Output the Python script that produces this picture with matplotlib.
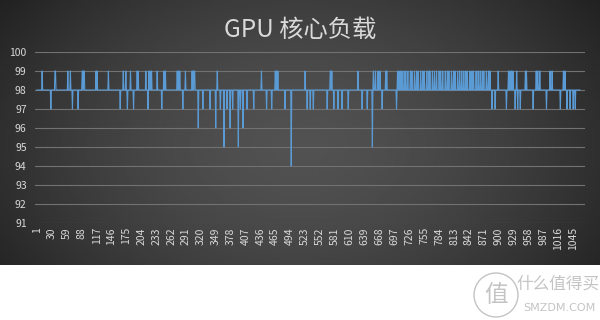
"""GPU core load line chart, Excel-style dark panel."""
import matplotlib
matplotlib.use("Agg")
import matplotlib.pyplot as plt
import matplotlib.patches as mpatches
import numpy as np

plt.rcParams["font.family"] = ["Noto Sans CJK SC", "DejaVu Sans"]

TITLE = "GPU 核心负载"

# samples sit at 98 % most of the time; listed indices (1-based) deviate
BASE_LOAD = 98
N_POINTS = 1058
PEAKS_99 = [
    11, 36, 37, 61, 66, 89, 90, 92, 93, 116, 118, 140, 169, 174, 183, 196, 198,
    213, 219, 221, 224, 235, 248, 251, 274, 277, 279, 290, 303, 305, 307, 308,
    352, 438, 465, 467, 470, 523, 572, 573, 575, 626, 656, 660, 665, 669, 680,
    682, 703, 706, 709, 712, 716, 719, 723, 728, 731, 736, 740, 743, 748, 752,
    755, 760, 764, 766, 771, 775, 779, 784, 787, 791, 796, 800, 803, 808, 812,
    815, 820, 824, 828, 832, 836, 839, 844, 848, 851, 856, 860, 864, 868, 871,
    876, 880, 883, 899, 919, 922, 925, 928, 935, 952, 954, 973, 976, 980, 1000,
    1004, 1026, 1029,
]
DIPS_97 = [
    28, 70, 81, 163, 177, 189, 217, 244, 285, 324, 338, 358, 371, 382, 397,
    410, 423, 448, 458, 484, 527, 533, 539, 566, 579, 587, 595, 607, 634, 644,
    673, 701, 887, 893, 915, 932, 937, 942, 967, 993, 1020, 1033, 1039, 1045,
    1049,
]
DIPS_96 = [315, 349, 377, 402]
DIPS_95 = [365, 393, 654]
DIPS_94 = [496]

Y_TICKS = list(range(91, 101))
X_TICKS = list(range(1, 1046, 29))

LINE_COLOR = "#5b9bd5"
TEXT_COLOR = "#d9d9d9"
GRID_COLOR = "#727272"


def build_series() -> tuple[np.ndarray, np.ndarray]:
    loads = np.full(N_POINTS, BASE_LOAD, dtype=float)
    for idx_list, val in ((PEAKS_99, 99), (DIPS_97, 97), (DIPS_96, 96),
                          (DIPS_95, 95), (DIPS_94, 94)):
        for i in idx_list:
            loads[i - 1] = val
    return np.arange(1, N_POINTS + 1), loads


def draw_panel(fig: plt.Figure) -> None:
    # dark gradient background behind the chart (Excel "dark" style)
    bg = fig.add_axes([0, 1 - 265 / 320, 1, 265 / 320], zorder=0)
    yy, xx = np.mgrid[0:1:120j, 0:1:240j]
    r = np.sqrt(((xx - 0.5) / 0.62) ** 2 + ((yy - 0.55) / 0.95) ** 2)
    shade = np.clip(0.32 - 0.19 * r ** 1.6, 0.12, 0.32)
    bg.imshow(shade, cmap="gray", vmin=0, vmax=1, aspect="auto",
              extent=(0, 1, 0, 1), interpolation="bilinear")
    bg.set_axis_off()


def draw_watermark(fig: plt.Figure) -> None:
    wm = "#c4c4c4"
    fig.patches.append(mpatches.Ellipse((496 / 600, 1 - 295 / 320), 44 / 600, 44 / 320,
                                        transform=fig.transFigure, fill=False,
                                        edgecolor=wm, linewidth=1.0))
    fig.text(496 / 600, 1 - 296 / 320, "值", color=wm, fontsize=17,
             ha="center", va="center")
    fig.text(558 / 600, 1 - 284 / 320, "什么值得买", color=wm, fontsize=12,
             ha="center", va="center")
    fig.text(559 / 600, 1 - 308 / 320, "SMZDM.COM", color=wm, fontsize=8,
             ha="center", va="center", family="DejaVu Sans")


def main() -> None:
    x, loads = build_series()

    fig = plt.figure(figsize=(6, 3.2), dpi=100, facecolor="white")
    draw_panel(fig)

    ax = fig.add_axes([35 / 600, 1 - 223 / 320, 550 / 600, 171 / 320], zorder=1)
    ax.patch.set_alpha(0)
    ax.plot(x, loads, color=LINE_COLOR, linewidth=0.8)

    ax.set_ylim(91, 100)
    ax.set_xlim(-2.9, 1068)
    ax.set_yticks(Y_TICKS)
    ax.set_xticks(X_TICKS)
    ax.set_xticklabels([str(t) for t in X_TICKS], rotation=90)
    ax.tick_params(axis="both", length=0, colors=TEXT_COLOR, labelsize=7.5)
    ax.tick_params(axis="y", pad=6)
    ax.tick_params(axis="x", pad=3)
    ax.grid(axis="y", color=GRID_COLOR, linewidth=0.8)
    ax.set_axisbelow(True)
    for sp in ax.spines.values():
        sp.set_visible(False)

    fig.text(0.5, 1 - 30 / 320, TITLE, color=TEXT_COLOR, fontsize=17.5,
             ha="center", va="center")

    draw_watermark(fig)

    fig.savefig("out.png", dpi=100)
    plt.close(fig)


if __name__ == "__main__":
    main()
